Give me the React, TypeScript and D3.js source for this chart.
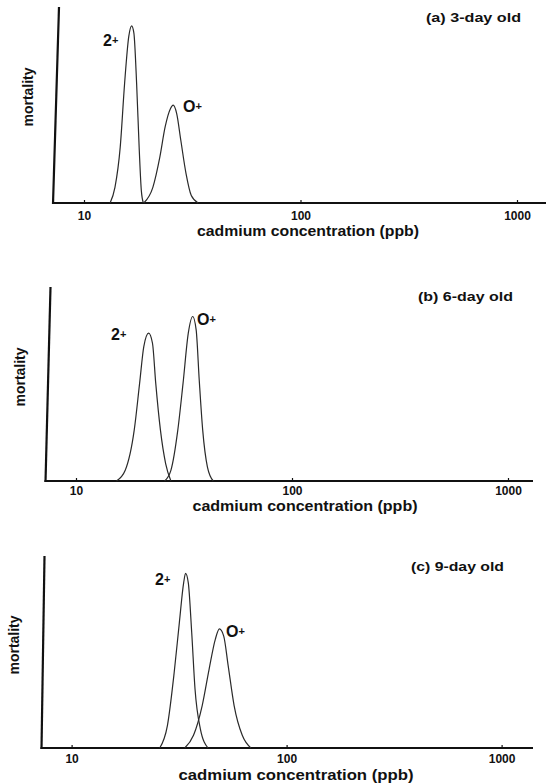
import React, { useEffect, useRef } from 'react'
import * as d3 from 'd3'

const tickValues = [10, 100, 1000]
const titles = ['(a) 3-day old', '(b) 6-day old', '(c) 9-day old']
const xLabel = 'cadmium concentration (ppb)'
const yLabel = 'mortality'
const groupNames = ['2', 'O']

// (a) 3-day old (concentration in ppb, relative mortality)
const a2Conc = [13.2, 13.9, 14.7, 15.4, 16.1, 16.6, 17.0, 17.5, 18.0, 18.4, 18.8]
const a2Mort = [0, 0.08, 0.285, 0.61, 0.85, 0.904, 0.867, 0.61, 0.27, 0.063, 0]
const a0Conc = [18.9, 20.8, 22.4, 23.7, 25.1, 25.8, 26.8, 28.0, 29.6, 31.3, 33.7]
const a0Mort = [0, 0.08, 0.234, 0.388, 0.482, 0.499, 0.456, 0.32, 0.15, 0.038, 0]
// (b) 6-day old
const b2Conc = [15.4, 16.9, 18.6, 19.7, 20.6, 21.7, 22.6, 23.4, 24.6, 26.0, 27.5]
const b2Mort = [0, 0.055, 0.262, 0.503, 0.693, 0.762, 0.71, 0.503, 0.262, 0.09, 0]
const b0Conc = [25.7, 27.5, 29.6, 31.3, 33.1, 34.7, 36.0, 37.2, 38.6, 40.6, 43.2]
const b0Mort = [0, 0.055, 0.262, 0.503, 0.762, 0.848, 0.779, 0.52, 0.262, 0.072, 0]
// (c) 9-day old
const c2Conc = [25.7, 27.9, 30.0, 31.7, 33.2, 33.9, 34.9, 36.2, 37.5, 39.7, 43.1]
const c2Mort = [0, 0.117, 0.393, 0.652, 0.86, 0.91, 0.86, 0.6, 0.307, 0.1, 0]
const c0Conc = [33.6, 36.9, 40.5, 43.6, 46.6, 48.7, 51.0, 53.5, 57.0, 62.2, 68.2]
const c0Mort = [0, 0.066, 0.221, 0.41, 0.566, 0.62, 0.583, 0.428, 0.221, 0.066, 0]

const series = [
    [[a2Conc, a2Mort], [a0Conc, a0Mort]],
    [[b2Conc, b2Mort], [b0Conc, b0Mort]],
    [[c2Conc, c2Mort], [c0Conc, c0Mort]],
]

// layout of each panel (the scan is a little skewed, so each has its own)
const layout = [
    { axTop: 59, axBot: 53, top: 7, base: 203, x10: 84, x1000: 517, right: 546,
      titleX: 521, titleY: 22, titleW: 95, yLabX: 33, yLabY: 97,
      tickY: 220, xLabX: 308, xLabY: 236, xLabW: 222,
      lab: [[103, 45.5], [183, 112]] },
    { axTop: 50.5, axBot: 45.5, top: 287, base: 481, x10: 76, x1000: 508, right: 533,
      titleX: 513, titleY: 301, titleW: 95, yLabX: 24.5, yLabY: 377,
      tickY: 495, xLabX: 305, xLabY: 511, xLabW: 225,
      lab: [[111, 340], [197, 325]] },
    { axTop: 44.5, axBot: 41.5, top: 556, base: 748, x10: 71.6, x1000: 501.6, right: 533,
      titleX: 504, titleY: 571, titleW: 93, yLabX: 19, yLabY: 645,
      tickY: 763, xLabX: 296, xLabY: 780, xLabW: 235,
      lab: [[155, 585], [226, 637]] },
]

const font = "'Liberation Sans', Arial, Helvetica, sans-serif"

export default function App() {
    const ref = useRef<SVGSVGElement>(null)

    useEffect(() => {
        const svg = d3.select(ref.current)
        svg.selectAll('*').remove()

        layout.forEach((p, i) => {
            const g = svg.append('g')
            const x = d3.scaleLog().domain([10, 1000]).range([p.x10, p.x1000])
            const y = d3.scaleLinear().domain([0, 1]).range([p.base, p.top])

            // axes
            g.append('line')
                .attr('x1', p.axTop).attr('y1', p.top)
                .attr('x2', p.axBot).attr('y2', p.base + 1)
                .attr('stroke', '#111').attr('stroke-width', 2.2)
            g.append('line')
                .attr('x1', p.axBot - 1).attr('y1', p.base)
                .attr('x2', p.right).attr('y2', p.base)
                .attr('stroke', '#111').attr('stroke-width', 2.2)

            const xAxis = d3.axisBottom(x)
                .tickValues(tickValues)
                .tickSize(-3)
                .tickPadding(0)
                .tickFormat(d3.format('d'))
            const ax = g.append('g')
                .attr('transform', `translate(0,${p.base})`)
                .call(xAxis)
            ax.select('.domain').remove()
            ax.selectAll('line').attr('stroke', '#111').attr('stroke-width', 1.2)
            ax.selectAll('text')
                .attr('y', p.tickY - p.base)
                .attr('dy', null)
                .attr('fill', '#111')
                .style('font-family', font)
                .style('font-weight', 'bold')
                .style('font-size', '12px')

            // curves
            series[i].forEach(([conc, mort]) => {
                const ln = d3.line<number>()
                    .x((d, j) => x(conc[j]))
                    .y(d => y(d))
                    .curve(d3.curveMonotoneX)
                g.append('path')
                    .attr('d', ln(mort))
                    .attr('fill', 'none')
                    .attr('stroke', '#2a2a2a')
                    .attr('stroke-width', 1.2)
            })

            // group labels
            groupNames.forEach((name, k) => {
                const t = g.append('text')
                    .attr('x', p.lab[k][0]).attr('y', p.lab[k][1])
                    .attr('fill', '#111')
                    .style('font-family', font)
                    .style('font-weight', 'bold')
                    .style('font-size', '16px')
                t.append('tspan').text(name)
                t.append('tspan').attr('dy', -2).style('font-size', '11px').text('+')
            })

            // title
            g.append('text')
                .attr('x', p.titleX).attr('y', p.titleY)
                .attr('text-anchor', 'end')
                .attr('textLength', p.titleW)
                .attr('lengthAdjust', 'spacingAndGlyphs')
                .attr('fill', '#111')
                .style('font-family', font)
                .style('font-weight', 'bold')
                .style('font-size', '13px')
                .text(titles[i])

            // axis labels
            g.append('text')
                .attr('x', p.xLabX).attr('y', p.xLabY)
                .attr('text-anchor', 'middle')
                .attr('textLength', p.xLabW)
                .attr('lengthAdjust', 'spacingAndGlyphs')
                .attr('fill', '#111')
                .style('font-family', font)
                .style('font-weight', 'bold')
                .style('font-size', '14px')
                .text(xLabel)
            g.append('text')
                .attr('transform', `translate(${p.yLabX},${p.yLabY}) rotate(-90)`)
                .attr('text-anchor', 'middle')
                .attr('fill', '#111')
                .style('font-family', font)
                .style('font-weight', 'bold')
                .style('font-size', '14px')
                .text(yLabel)
        })
    }, [])

    return (
        <svg ref={ref} width={546} height={784}
            style={{ position: 'absolute', left: 0, top: 0, background: '#fff' }} />
    )
}
